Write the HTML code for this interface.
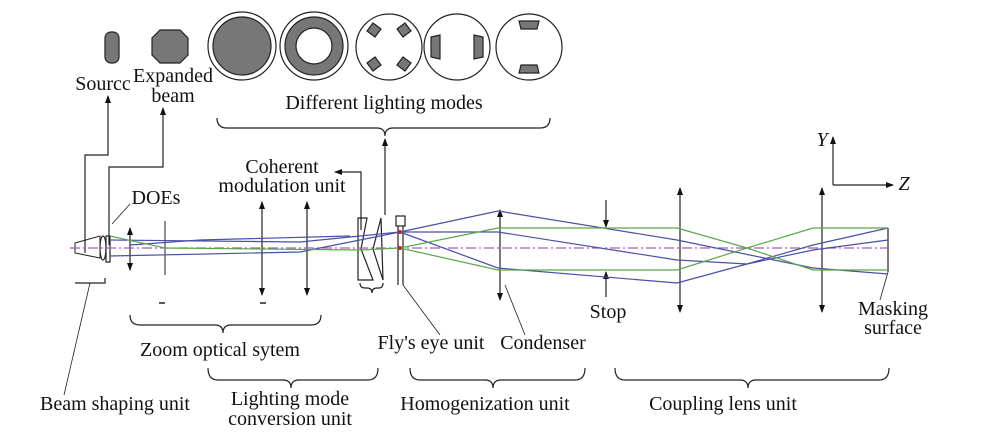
<!DOCTYPE html>
<html><head><style>body{margin:0;background:#fff}svg{display:block}text{font-family:"Liberation Serif",serif;font-size:20px;fill:#111;text-anchor:middle}</style></head><body>
<svg width="985" height="438" viewBox="0 0 985 438" xmlns="http://www.w3.org/2000/svg">
<defs><marker id="a" markerWidth="8" markerHeight="8" refX="7" refY="4" orient="auto" markerUnits="userSpaceOnUse"><path d="M0,1 L8,4 L0,7 Z" fill="#111"/></marker>
<marker id="b" markerWidth="8" markerHeight="8" refX="1" refY="4" orient="auto" markerUnits="userSpaceOnUse"><path d="M8,1 L0,4 L8,7 Z" fill="#111"/></marker></defs>
<g stroke="#222" stroke-width="1.2" fill="none">
<rect x="105" y="32" width="14" height="31" rx="6" fill="#777"/>
<path d="M160,30 H180 L188,38 V55 L180,63 H160 L152,55 V38 Z" fill="#777"/>
<circle cx="242" cy="46" r="34"/><circle cx="242" cy="46" r="29" fill="#777"/>
<circle cx="314" cy="46" r="34"/><circle cx="314" cy="46" r="29" fill="#777"/><circle cx="314" cy="46" r="18" fill="#fff"/>
<circle cx="389" cy="47" r="33"/>
<path d="M373,23 l8,6 l-6,8 l-8,-6 Z M405,23 l-8,6 l6,8 l8,-6 Z M373,71 l8,-6 l-6,-8 l-8,6 Z M405,71 l-8,-6 l6,-8 l8,6 Z" fill="#777"/>
<circle cx="457" cy="47" r="33"/>
<path d="M431,37 l9,-2 v24 l-9,-2 Z M483,37 l-9,-2 v24 l9,-2 Z" fill="#777"/>
<circle cx="529" cy="47" r="33"/>
<path d="M519,21 h20 l-2,8 h-16 Z M519,73 h20 l-2,-8 h-16 Z" fill="#777"/>
<path d="M217,118 q0,10 10,10 h150 q8,0 8,8 q0,-8 8,-8 h147 q10,0 10,-10"/>
<path d="M85,253 V155 H108 V96" marker-end="url(#a)"/>
<path d="M109,245 V167 H163 V108" marker-end="url(#a)"/>
<path d="M361,230 V172 H335" marker-end="url(#a)"/>
<path d="M385,215 V139" marker-end="url(#a)"/>
<path d="M112,224 L130,204" stroke-width="0.8"/>
<path d="M75,243 L100,236 V258 L75,253 Z" stroke-width="1"/>
<ellipse cx="103" cy="248" rx="3" ry="12"/>
<rect x="106" y="236" width="4" height="26"/>
<path d="M130,228 V270" marker-start="url(#b)" marker-end="url(#a)"/>
<path d="M165,221 V275" stroke-width="1"/>
<path d="M262,202 V295" marker-start="url(#b)" marker-end="url(#a)"/>
<path d="M307,202 V295" marker-start="url(#b)" marker-end="url(#a)"/>
<path d="M159,303 h6 M260,303 h6" stroke-width="1.5"/>
<path d="M358,218 h9 l-6,31 l12,31 h-15 Z M381,218 L373,249 l10,31 Z"/>
<rect x="396" y="216" width="9" height="10"/>
<path d="M398,226 V285 M403,226 V285"/>
<path d="M500,210 V300" marker-start="url(#b)" marker-end="url(#a)"/>
<path d="M680,188 V312" marker-start="url(#b)" marker-end="url(#a)"/>
<path d="M822,188 V312" marker-start="url(#b)" marker-end="url(#a)"/>
<path d="M888,228 V272"/>
<path d="M606,200 V227" marker-end="url(#a)"/>
<path d="M606,297 V272" marker-end="url(#a)"/>
<path d="M833,185 V137" marker-end="url(#a)"/>
<path d="M833,185 H893" marker-end="url(#a)"/>
<path d="M75,283 h30 v-5"/><path d="M90,283 L64,395" stroke-width="0.8"/>
<path d="M360,283 q0,5 5,5 h2 q5,0 5,5 q0,-5 5,-5 h2 q4,0 4,-5"/>
<path d="M130,315 q0,10 10,10 h75 q8,0 8,8 q0,-8 8,-8 h80 q10,0 10,-10"/>
<path d="M208,368 q0,12 10,12 h65 q8,0 8,8 q0,-8 8,-8 h69 q10,0 10,-12"/>
<path d="M410,368 q0,12 10,12 h65 q8,0 8,8 q0,-8 8,-8 h74 q10,0 10,-12"/>
<path d="M615,368 q0,12 10,12 h115 q8,0 8,8 q0,-8 8,-8 h123 q10,0 10,-12"/>
<path d="M403,285 L440,335 M505,285 L525,335 M888,272 L880,300" stroke-width="0.8"/>
</g>
<g fill="none" stroke-width="1.2">
<path d="M70,248 H888" stroke="#a060b0" stroke-dasharray="10,3,2,3"/>
<g stroke="#4a4fa8">
<path d="M110,240 L300,242 L360,236 L400,232 L498,211 L677,240 L813,268 L888,274"/>
<path d="M110,256 L300,252 L360,240 L400,232 L498,232 L677,260 L747,264 L813,250 L888,240"/>
<path d="M400,232 L498,268 L677,283 L747,264 L813,245 L888,228"/>
<path d="M130,245 L200,240 L350,236"/>
</g>
<g stroke="#5aa84a">
<path d="M110,236 L165,248 L360,250 L400,248 L498,228 L677,228 L747,248 L813,228 L888,228"/>
<path d="M400,248 L498,270 L677,270 L747,248 L813,270 L888,270"/>
</g>
</g>
<circle cx="400" cy="232" r="2" fill="#c22"/><circle cx="400" cy="248" r="2" fill="#c22"/>
<text x="103" y="90">Sourcc</text>
<text x="173" y="82">Expanded</text><text x="173" y="102">beam</text>
<text x="384" y="109">Different lighting modes</text>
<text x="282" y="173">Coherent</text><text x="282" y="192">modulation unit</text>
<text x="156" y="204">DOEs</text>
<text x="608" y="318">Stop</text>
<text x="893" y="315">Masking</text><text x="893" y="334">surface</text>
<text x="822" y="146" font-style="italic">Y</text>
<text x="904" y="190" font-style="italic">Z</text>
<text x="220" y="356">Zoom optical sytem</text>
<text x="431" y="349">Fly's eye unit</text>
<text x="543" y="349">Condenser</text>
<text x="115" y="410">Beam shaping unit</text>
<text x="290" y="405">Lighting mode</text><text x="290" y="425">conversion unit</text>
<text x="485" y="410">Homogenization unit</text>
<text x="723" y="410">Coupling lens unit</text>
</svg>
</body></html>
